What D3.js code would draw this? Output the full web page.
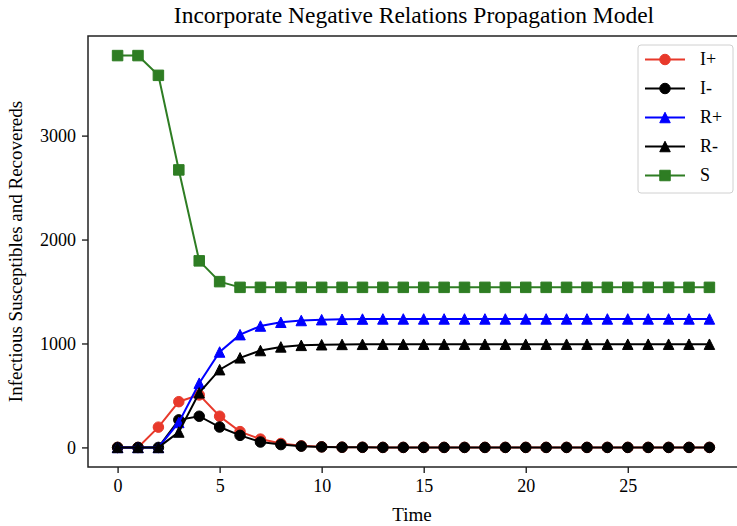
<!DOCTYPE html>
<html>
<head>
<meta charset="utf-8">
<script src="https://cdn.jsdelivr.net/npm/d3@7"></script>
<style>
  body { margin: 0; background: #fff; }
  svg text { font-family: "Liberation Serif", "Times New Roman", serif; fill: #000; }
</style>
</head>
<body>
<svg width="737" height="526"></svg>
<script>
var time = d3.range(0, 30);

var iPlus  = [0, 0, 195, 440, 505, 300, 152, 80, 38, 15, 6, 2, 1, 0, 0, 0, 0, 0, 0, 0, 0, 0, 0, 0, 0, 0, 0, 0, 0, 0];
var iMinus = [0, 0, 0, 265, 300, 196, 116, 52, 27, 12, 5, 2, 1, 0, 0, 0, 0, 0, 0, 0, 0, 0, 0, 0, 0, 0, 0, 0, 0, 0];
var rPlus  = [0, 0, 0, 240, 618, 918, 1085, 1168, 1204, 1221, 1229, 1233, 1235, 1236, 1236, 1236, 1236, 1236, 1236, 1236, 1236, 1236, 1236, 1236, 1236, 1236, 1236, 1236, 1236, 1236];
var rMinus = [0, 0, 0, 148, 525, 748, 862, 932, 967, 982, 988, 991, 992, 993, 993, 993, 993, 993, 993, 993, 993, 993, 993, 993, 993, 993, 993, 993, 993, 993];
var sus    = [3770, 3770, 3580, 2670, 1795, 1595, 1540, 1540, 1540, 1540, 1540, 1540, 1540, 1540, 1540, 1540, 1540, 1540, 1540, 1540, 1540, 1540, 1540, 1540, 1540, 1540, 1540, 1540, 1540, 1540];

var seriesNames = ["I+", "I-", "R+", "R-", "S"];
var xTicks = [0, 5, 10, 15, 20, 25];
var yTicks = [0, 1000, 2000, 3000];

var series = [
    {name: "I+", values: iPlus,  color: "#e8392b", marker: "circle"},
    {name: "I-", values: iMinus, color: "#000000", marker: "circle"},
    {name: "R+", values: rPlus,  color: "#0000ff", marker: "triangle"},
    {name: "R-", values: rMinus, color: "#000000", marker: "triangle"},
    {name: "S",  values: sus,    color: "#2e7d23", marker: "square"}
];

var svg = d3.select("svg"),
    pLeft = 88, pRight = 739, pTop = 36, pBottom = 467;

// matplotlib-style 5% padding around data
var yMin = 0, yMax = 3770, yPad = (yMax - yMin) * 0.05;
var x = d3.scaleLinear().domain([-1.45, 30.45]).range([pLeft, pRight]);
var y = d3.scaleLinear().domain([yMin - yPad, yMax + yPad]).range([pBottom, pTop]);

svg.append("clipPath").attr("id", "clip")
    .append("rect").attr("x", pLeft).attr("y", pTop).attr("width", pRight - pLeft).attr("height", pBottom - pTop);

function markerPath(type, s) {
    var h = s / 2;
    if (type == "circle") return "M" + h + ",0A" + h + "," + h + " 0 1,1 " + (-h) + ",0A" + h + "," + h + " 0 1,1 " + h + ",0Z";
    if (type == "square") return "M" + (-h) + "," + (-h) + "H" + h + "V" + h + "H" + (-h) + "Z";
    return "M0," + (-h) + "L" + h + "," + h + "L" + (-h) + "," + h + "Z";
}

var line = d3.line()
    .x(function(d, i) { return x(time[i]); })
    .y(function(d) { return y(d); });

var plot = svg.append("g").attr("clip-path", "url(#clip)");

series.forEach(function(s) {
    var g = plot.append("g");
    g.append("path")
        .attr("d", line(s.values))
        .attr("fill", "none")
        .attr("stroke", s.color)
        .attr("stroke-width", 2);
    g.selectAll("path.m")
        .data(s.values)
        .enter().append("path")
        .attr("class", "m")
        .attr("transform", function(d, i) { return "translate(" + x(time[i]) + "," + y(d) + ")"; })
        .attr("d", markerPath(s.marker, 10.5))
        .attr("fill", s.color)
        .attr("stroke", s.color)
        .attr("stroke-width", 1);
});

// axes
var xAxis = svg.append("g")
    .attr("transform", "translate(0," + pBottom + ")")
    .call(d3.axisBottom(x).tickValues(xTicks).tickSize(6).tickPadding(6));
var yAxis = svg.append("g")
    .attr("transform", "translate(" + pLeft + ",0)")
    .call(d3.axisLeft(y).tickValues(yTicks).tickFormat(d3.format("d")).tickSize(6).tickPadding(6));

[xAxis, yAxis].forEach(function(a) {
    a.select(".domain").remove();
    a.selectAll("line").attr("stroke", "#222").attr("stroke-width", 1.4);
    a.selectAll("text").style("font-size", "18px").attr("font-family", null);
});

svg.append("rect")
    .attr("x", pLeft).attr("y", pTop)
    .attr("width", pRight - pLeft).attr("height", pBottom - pTop)
    .attr("fill", "none").attr("stroke", "#222").attr("stroke-width", 1.5);

svg.append("text")
    .attr("x", 414).attr("y", 23)
    .attr("text-anchor", "middle")
    .style("font-size", "23.5px")
    .text("Incorporate Negative Relations Propagation Model");

svg.append("text")
    .attr("x", 412).attr("y", 521)
    .attr("text-anchor", "middle")
    .style("font-size", "19px")
    .text("Time");

svg.append("text")
    .attr("transform", "translate(22," + (pTop + pBottom) / 2 + ") rotate(-90)")
    .attr("text-anchor", "middle")
    .style("font-size", "19px")
    .text("Infectious Susceptibles and Recovereds");

// legend
var lg = svg.append("g").attr("transform", "translate(638,45)");
lg.append("rect")
    .attr("width", 95).attr("height", 148).attr("rx", 3)
    .attr("fill", "#fff").attr("fill-opacity", 0.8)
    .attr("stroke", "#d0d0d0").attr("stroke-width", 1);

var items = lg.selectAll("g.item")
    .data(series)
    .enter().append("g")
    .attr("class", "item")
    .attr("transform", function(d, i) { return "translate(0," + (14.5 + i * 29) + ")"; });
items.append("line")
    .attr("x1", 7).attr("x2", 47)
    .attr("stroke", function(d) { return d.color; })
    .attr("stroke-width", 2);
items.append("path")
    .attr("transform", "translate(27,0)")
    .attr("d", function(d) { return markerPath(d.marker, 10.5); })
    .attr("fill", function(d) { return d.color; })
    .attr("stroke", function(d) { return d.color; });
items.append("text")
    .attr("x", 62).attr("dy", "0.33em")
    .style("font-size", "18px")
    .text(function(d, i) { return seriesNames[i]; });
</script>
</body>
</html>
